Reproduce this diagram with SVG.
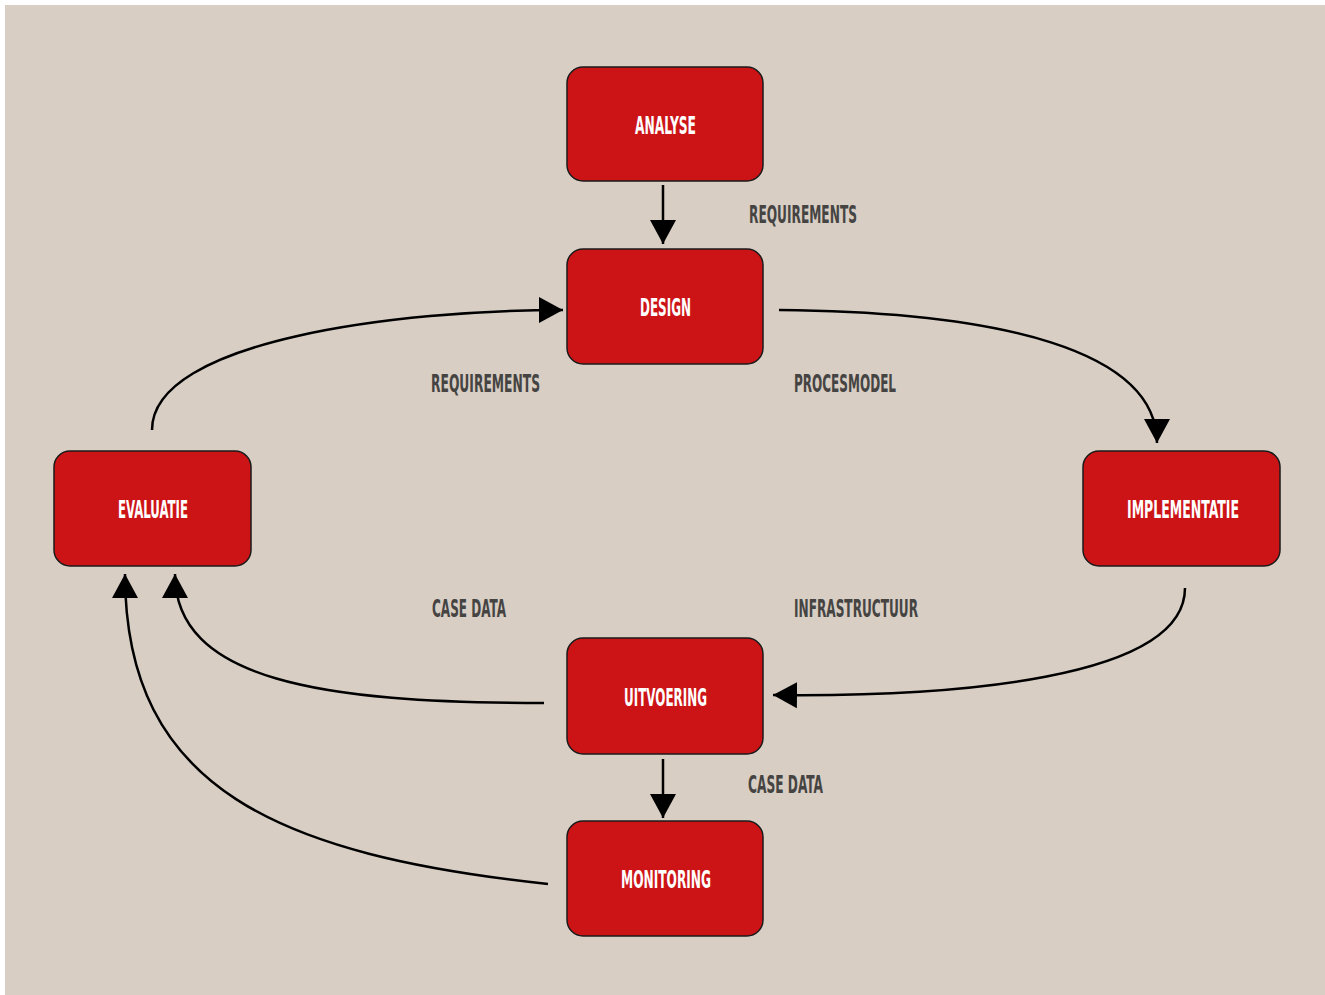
<svg xmlns="http://www.w3.org/2000/svg" width="1325" height="995" viewBox="0 0 1325 995">
<style>
.node{fill:#cc1417;stroke:#1a1a1a;stroke-width:1.5}
.nt{fill:#ffffff;font-family:"Liberation Sans Narrow","DejaVu Sans Condensed","Liberation Sans",sans-serif;font-weight:bold;font-size:25px}
.lb{fill:#454442;font-family:"Liberation Sans Narrow","DejaVu Sans Condensed","Liberation Sans",sans-serif;font-weight:bold;font-size:25px}
.c{fill:none;stroke:#000;stroke-width:2.5;marker-end:url(#ah)}
</style>
<defs>
<marker id="ah" markerUnits="userSpaceOnUse" markerWidth="26" markerHeight="28" refX="24" refY="13" orient="auto" viewBox="0 0 26 26">
<path d="M0,0 L24,13 L0,26 z" fill="#000"/>
</marker>
</defs>
<rect x="5" y="5" width="1320" height="990" fill="#d8cec4"/>
<g id="connectors">
<path class="c" d="M663,185 L663,244"/>
<path class="c" d="M779,310 C1000,312 1157,350 1157,443"/>
<path class="c" d="M152,430 C152,340 400,310 563,310"/>
<path class="c" d="M1185,588 C1185,680 950,697 773,695"/>
<path class="c" d="M544,703 C320,703 175,680 175,574"/>
<path class="c" d="M548,884 C280,855 125,790 125,574"/>
<path class="c" d="M663,759 L663,818"/>
</g>
<g id="labels">
<text class="lb" x="749" y="223" textLength="108" lengthAdjust="spacingAndGlyphs">REQUIREMENTS</text>
<text class="lb" x="431" y="392" textLength="109" lengthAdjust="spacingAndGlyphs">REQUIREMENTS</text>
<text class="lb" x="794" y="392" textLength="102" lengthAdjust="spacingAndGlyphs">PROCESMODEL</text>
<text class="lb" x="432" y="617" textLength="74" lengthAdjust="spacingAndGlyphs">CASE DATA</text>
<text class="lb" x="794" y="617" textLength="124" lengthAdjust="spacingAndGlyphs">INFRASTRUCTUUR</text>
<text class="lb" x="748" y="793" textLength="75" lengthAdjust="spacingAndGlyphs">CASE DATA</text>
</g>
<g id="analyse">
<rect class="node" x="567" y="67" width="196" height="114" rx="16"/>
<text class="nt" x="635" y="134" textLength="61" lengthAdjust="spacingAndGlyphs">ANALYSE</text>
</g>
<g id="design">
<rect class="node" x="567" y="249" width="196" height="115" rx="16"/>
<text class="nt" x="640" y="316" textLength="51" lengthAdjust="spacingAndGlyphs">DESIGN</text>
</g>
<g id="evaluatie">
<rect class="node" x="54" y="451" width="197" height="115" rx="16"/>
<text class="nt" x="118" y="518" textLength="70" lengthAdjust="spacingAndGlyphs">EVALUATIE</text>
</g>
<g id="implementatie">
<rect class="node" x="1083" y="451" width="197" height="115" rx="16"/>
<text class="nt" x="1127" y="518" textLength="112" lengthAdjust="spacingAndGlyphs">IMPLEMENTATIE</text>
</g>
<g id="uitvoering">
<rect class="node" x="567" y="638" width="196" height="116" rx="16"/>
<text class="nt" x="624" y="706" textLength="83" lengthAdjust="spacingAndGlyphs">UITVOERING</text>
</g>
<g id="monitoring">
<rect class="node" x="567" y="821" width="196" height="115" rx="16"/>
<text class="nt" x="621" y="888" textLength="90" lengthAdjust="spacingAndGlyphs">MONITORING</text>
</g>
</svg>
